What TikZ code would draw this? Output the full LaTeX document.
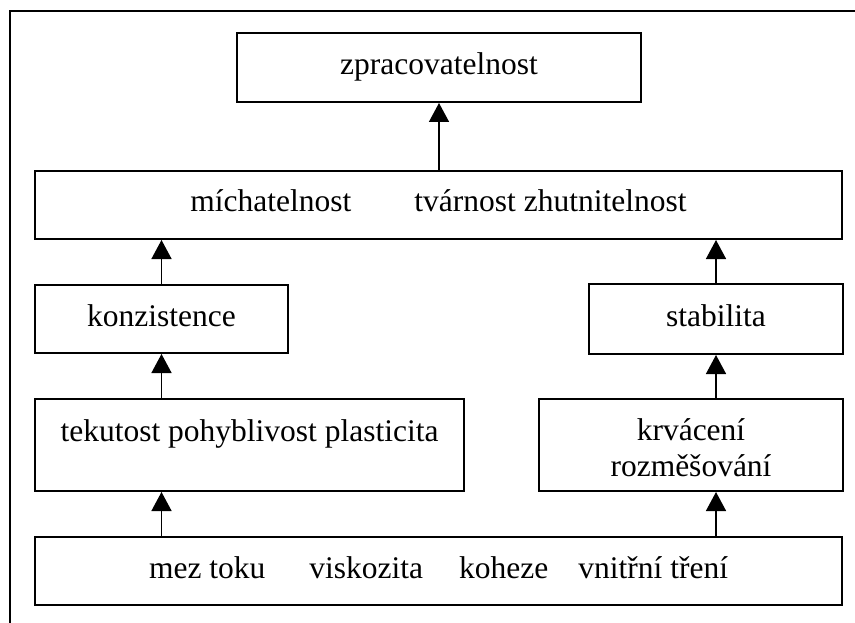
\documentclass[tikz,border=0pt]{standalone}
\usepackage{fontspec}
\setmainfont{Liberation Serif}
\usetikzlibrary{arrows.meta}
\tikzset{
  every node/.style={font=\fontsize{31.5}{36}\selectfont},
  box/.style={draw, line width=2pt, inner sep=0pt, text height=22pt, text depth=8pt},
  topbox/.style={draw, line width=2pt, inner sep=0pt, text height=22pt, text depth=28.6pt},
  twobox/.style={draw, line width=2pt, inner sep=0pt, align=center, text height=71.4pt, text depth=8pt},
  arr/.style={line width=1.5pt, -{Triangle[width=20pt,length=19pt]}},
  frame/.style={line width=2pt}
}
\begin{document}
\begin{tikzpicture}[x=1pt,y=-1pt]
\useasboundingbox (0,0) rectangle (855,623);
\draw[frame] (10,623) -- (10,11) -- (855,11);
\node[box, minimum width=404pt, minimum height=69pt] (Z) at (439,67.5) {zpracovatelnost};
\node[box, minimum width=807pt, minimum height=68pt] (M) at (438.5,205) {míchatelnost\hspace{63pt}tvárnost zhutnitelnost};
\node[box, minimum width=253pt, minimum height=68pt] (K) at (161.5,319) {konzistence};
\node[box, minimum width=254pt, minimum height=70pt] (S) at (716,319) {stabilita};
\node[topbox, minimum width=429pt, minimum height=92pt] (T) at (249.5,445) {tekutost pohyblivost plasticita};
\node[twobox, minimum width=304pt, minimum height=92pt] (R) at (691,445) {krvácení\\rozměšování};
\node[box, minimum width=807pt, minimum height=68pt] (B) at (438.5,571) {mez toku\hspace{44pt}viskozita\hspace{36pt}koheze\hspace{30pt}vnitřní tření};
\draw[arr] (M.north -| Z.south) -- (Z.south);
\draw[arr] (K.north) -- (M.south -| K.north);
\draw[arr] (T.north -| K.south) -- (K.south);
\draw[arr] (B.north -| K.south) -- (T.south -| K.south);
\draw[arr] (S.north) -- (M.south -| S.north);
\draw[arr] (R.north -| S.south) -- (S.south);
\draw[arr] (B.north -| S.south) -- (R.south -| S.south);
\end{tikzpicture}
\end{document}
